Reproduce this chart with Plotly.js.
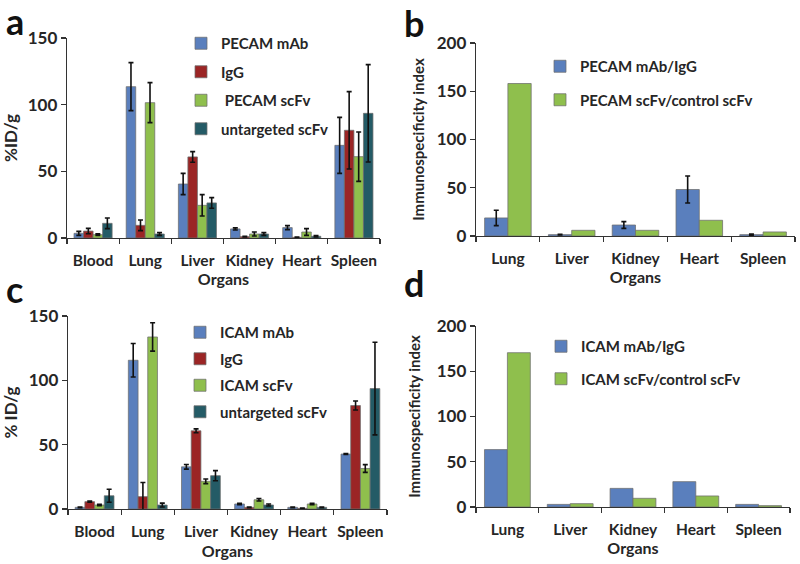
<!DOCTYPE html>
<html>
<head>
<meta charset="utf-8">
<script src="https://cdn.plot.ly/plotly-3.0.1.min.js"></script>
<style>html,body{margin:0;padding:0;background:#fff;}#chart{width:800px;height:564px;}</style>
</head>
<body>
<div id="chart"></div>
<script>
// ---------- Data ----------
const organs6 = ["Blood", "Lung", "Liver", "Kidney", "Heart", "Spleen"];
const organs5 = ["Lung", "Liver", "Kidney", "Heart", "Spleen"];

// Panel a (%ID/g)
const a_pecamMab = [3.5, 113.5, 40.5, 6.8, 7.8, 69.5];
const a_pecamMabErr = [1.5, 18, 8, 0.8, 1.5, 21];
const a_igg = [5.2, 9.5, 60.8, 1.0, 0.5, 80.8];
const a_iggErr = [2, 4, 4, 0.3, 0.2, 29];
const a_pecamScfv = [2.5, 101.5, 24.5, 3.0, 4.5, 61];
const a_pecamScfvErr = [0.6, 15, 8, 1.5, 2.5, 18.5];
const a_untargeted = [11, 3, 26.3, 3.0, 1.3, 93.5];
const a_untargetedErr = [4, 1, 4, 1, 0.5, 36.5];

// Panel b (Immunospecificity index)
const b_pecamRatio = [18.7, 1.4, 11.4, 48.2, 1.4];
const b_pecamRatioErr = [8, 0.4, 3.5, 14, 0.5];
const b_scfvRatio = [158, 5.9, 5.9, 16.3, 4.2];

// Panel c (% ID/g)
const c_icamMab = [1.3, 115.6, 32.8, 3.9, 1.3, 42.7];
const c_icamMabErr = [0.3, 13, 1.8, 0.6, 0.3, 0.3];
const c_igg = [5.7, 9.6, 60.8, 1.3, 0.5, 80.4];
const c_iggErr = [0.4, 11, 1.5, 0.3, 0.2, 3.5];
const c_icamScfv = [3.1, 133.7, 21.5, 7.2, 3.9, 31.5];
const c_icamScfvErr = [0.5, 11, 1.8, 1, 0.5, 3];
const c_untargeted = [10.3, 3.1, 25.9, 3.1, 1.3, 93.6];
const c_untargetedErr = [5, 1.5, 3.9, 0.8, 0.3, 36];

// Panel d (Immunospecificity index)
const d_icamRatio = [63.4, 2.9, 20.6, 28, 2.9];
const d_scfvRatio = [170.5, 3.7, 9.6, 12.2, 1.5];

// ---------- Style ----------
const BLUE = "#5a7fbd", RED = "#9b2525", GREEN = "#8fbf4d", TEAL = "#245b66";
const FONT = "Lato, 'Open Sans', 'DejaVu Sans', sans-serif";
const TXT = "#262626";
const outline = {color: "rgba(110,110,110,0.75)", width: 1};

function bar(name, x, y, color, err, xa, ya, leg, grp) {
  const t = {
    type: "bar", name: name, x: x, y: y, xaxis: xa, yaxis: ya,
    legend: leg, legendgroup: grp,
    marker: {color: color, line: outline}
  };
  if (err) {
    t.error_y = {type: "data", array: err, visible: true, color: "#111", thickness: 1.6, width: 2.5};
  }
  return t;
}

const data = [
  bar("PECAM mAb", organs6, a_pecamMab, BLUE, a_pecamMabErr, "x", "y", "legend", "a1"),
  bar("IgG", organs6, a_igg, RED, a_iggErr, "x", "y", "legend", "a2"),
  bar(" PECAM scFv", organs6, a_pecamScfv, GREEN, a_pecamScfvErr, "x", "y", "legend", "a3"),
  bar("untargeted scFv", organs6, a_untargeted, TEAL, a_untargetedErr, "x", "y", "legend", "a4"),

  bar("PECAM mAb/IgG", organs5, b_pecamRatio, BLUE, b_pecamRatioErr, "x2", "y2", "legend2", "b1"),
  bar("PECAM scFv/control scFv", organs5, b_scfvRatio, GREEN, null, "x2", "y2", "legend2", "b2"),

  bar("ICAM mAb", organs6, c_icamMab, BLUE, c_icamMabErr, "x3", "y3", "legend3", "c1"),
  bar("IgG", organs6, c_igg, RED, c_iggErr, "x3", "y3", "legend3", "c2"),
  bar("ICAM scFv", organs6, c_icamScfv, GREEN, c_icamScfvErr, "x3", "y3", "legend3", "c3"),
  bar("untargeted scFv", organs6, c_untargeted, TEAL, c_untargetedErr, "x3", "y3", "legend3", "c4"),

  bar("ICAM mAb/IgG", organs5, d_icamRatio, BLUE, null, "x4", "y4", "legend4", "d1"),
  bar("ICAM scFv/control scFv", organs5, d_scfvRatio, GREEN, null, "x4", "y4", "legend4", "d2")
];

const xTickFont = {family: FONT, size: 15.5, color: TXT, weight: "bold"};
const yTickFont = {family: FONT, size: 17, color: TXT, weight: "bold"};
function xax(domain, anchor, standoff, lblOff) {
  return {
    domain: domain, anchor: anchor, type: "category", tickangle: 0,
    showline: true, linecolor: "#333", linewidth: 1.3,
    ticks: "outside", tickson: "boundaries", ticklen: 5, tickcolor: "#333", tickwidth: 1.3,
    ticklabelstandoff: lblOff,
    showgrid: false, zeroline: false, tickfont: xTickFont, fixedrange: true,
    title: {text: "Organs", font: {family: FONT, size: 16, color: TXT, weight: "bold"}, standoff: standoff},
    automargin: false
  };
}
function yax(domain, anchor, range, dtick, title, tsize, standoff) {
  return {
    domain: domain, anchor: anchor, range: range, dtick: dtick,
    showline: true, linecolor: "#333", linewidth: 1.3,
    ticks: "outside", ticklen: 5, tickcolor: "#333", tickwidth: 1.3,
    showgrid: false, zeroline: false, tickfont: yTickFont, fixedrange: true,
    title: {text: title, font: {family: FONT, size: tsize, color: TXT, weight: "bold"}, standoff: standoff},
    automargin: false
  };
}
function legend(x, y, gap) {
  return {
    x: x, y: y, xanchor: "left", yanchor: "top", bgcolor: "rgba(0,0,0,0)",
    font: {family: FONT, size: 15, color: TXT, weight: "bold"},
    tracegroupgap: gap, itemwidth: 30, traceorder: "grouped", itemclick: false, itemdoubleclick: false
  };
}

const H = 564, W = 800;
function py(pix) { return 1 - pix / H; }
function px(pix) { return pix / W; }

const letterFont = {family: FONT, size: 36, color: "#111", weight: "bold"};
const layout = {
  width: W, height: H,
  margin: {l: 0, r: 0, t: 0, b: 0},
  paper_bgcolor: "#fff", plot_bgcolor: "#fff",
  showlegend: true,
  barmode: "group",
  bargap: 0.27, bargroupgap: 0,
  font: {family: FONT, color: TXT},
  xaxis: xax([px(67), px(380)], "y", 6, 8),
  yaxis: yax([py(238), py(38)], "x", [0, 150], 50, "%ID/g", 17, 8),
  xaxis2: xax([px(476), px(795)], "y2", 3, 8),
  yaxis2: yax([py(236), py(43)], "x2", [0, 200], 50, "Immunospecificity index", 15, 8),
  xaxis3: xax([px(68), px(387)], "y3", 7, 8),
  yaxis3: yax([py(509), py(316)], "x3", [0, 150], 50, "% ID/g", 17, 8),
  xaxis4: xax([px(476), px(790)], "y4", 5, 8),
  yaxis4: yax([py(507), py(326)], "x4", [0, 200], 50, "Immunospecificity index", 15, 12),
  legend: legend(px(181), py(27), 6),
  legend2: legend(px(540), py(50), 11),
  legend3: legend(px(180), py(316), 4),
  legend4: legend(px(541), py(330), 10),
  annotations: [
    {text: "a", x: px(4), y: py(-3), xref: "paper", yref: "paper", xanchor: "left", yanchor: "top", showarrow: false, font: letterFont},
    {text: "b", x: px(402), y: py(-1), xref: "paper", yref: "paper", xanchor: "left", yanchor: "top", showarrow: false, font: letterFont},
    {text: "c", x: px(4), y: py(265), xref: "paper", yref: "paper", xanchor: "left", yanchor: "top", showarrow: false, font: letterFont},
    {text: "d", x: px(402), y: py(259), xref: "paper", yref: "paper", xanchor: "left", yanchor: "top", showarrow: false, font: letterFont}
  ]
};

Plotly.newPlot("chart", data, layout, {staticPlot: true, displayModeBar: false});
</script>
</body>
</html>
